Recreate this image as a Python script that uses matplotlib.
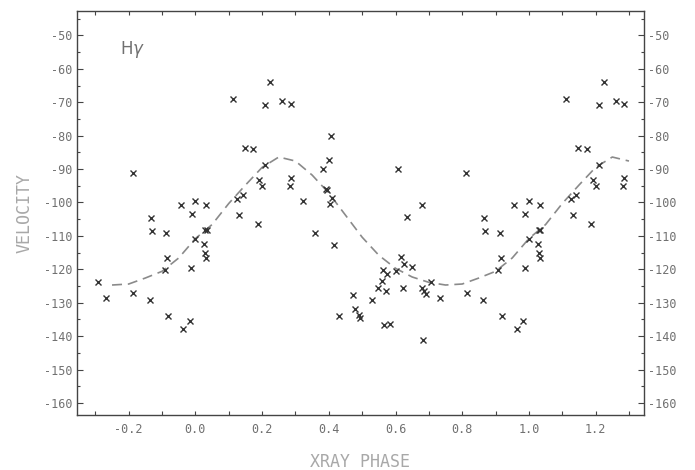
import numpy as np
import matplotlib
matplotlib.use("Agg")
import matplotlib.pyplot as plt
from matplotlib.ticker import MultipleLocator, FuncFormatter

plt.rcParams['axes.unicode_minus'] = False
plt.rcParams['font.family'] = ['DejaVu Sans Mono']

# observed velocities, one cycle of x-ray phase
phase = [0.000, 0.032, 0.030, 0.034, 0.000, 0.026, 0.030, 0.033, 0.112, 0.126,
         0.142, 0.132, 0.148, 0.174, 0.187, 0.191, 0.200, 0.210, 0.209, 0.224,
         0.261, 0.286, 0.286, 0.283,
         0.323, 0.360, 0.383, 0.391, 0.394, 0.401, 0.406, 0.410, 0.405, 0.415,
         0.430, 0.474, 0.478, 0.492, 0.493, 0.529, 0.546, 0.559, 0.563, 0.573,
         0.570, 0.566, 0.582, 0.602, 0.608, 0.616, 0.622, 0.626, 0.633, 0.650,
         0.678, 0.680, 0.684, 0.690, 0.683,
         0.707, 0.733, 0.812, 0.814, 0.863, 0.866, 0.869, 0.912, 0.915, 0.908,
         0.919, 0.956, 0.963, 0.983, 0.987, 0.989]
velocity = [-99.6, -100.7, -108.2, -108.2, -111.0, -112.5, -115.0, -116.5, -69.1, -99.1,
            -97.7, -103.8, -83.7, -83.9, -106.5, -93.4, -95.0, -88.9, -70.9, -63.9,
            -69.6, -70.4, -92.6, -95.0,
            -99.7, -109.0, -89.9, -96.1, -96.4, -87.4, -80.2, -98.6, -100.6, -112.7,
            -134.1, -127.8, -131.9, -133.8, -134.7, -129.3, -125.7, -123.5, -120.3, -121.4,
            -126.5, -136.6, -136.3, -120.4, -89.9, -116.4, -125.7, -118.5, -104.3, -119.2,
            -100.8, -125.6, -126.5, -127.4, -141.3,
            -123.9, -128.6, -91.2, -127.0, -129.1, -104.6, -108.5, -109.0, -116.7, -120.3,
            -133.9, -100.7, -137.9, -135.4, -119.7, -103.3]

curve_phase = [0.00, 0.05, 0.10, 0.15, 0.20, 0.25, 0.30, 0.35, 0.40, 0.45,
               0.50, 0.55, 0.60, 0.65, 0.70, 0.75, 0.80, 0.85, 0.90, 0.95]
curve_velocity = [-110.8, -106.6, -100.3, -94.8, -89.5, -86.4, -87.6, -91.8, -97.2, -103.8,
                  -110.4, -115.8, -119.7, -122.3, -123.9, -124.7, -124.4, -122.6, -120.6, -116.6]

ph = np.array(phase)
vel = np.array(velocity)
# repeat the cycle edges so the plot covers -0.3 .. 1.3
px = np.concatenate([ph, ph[ph < 0.3] + 1, ph[ph >= 0.7] - 1])
py = np.concatenate([vel, vel[ph < 0.3], vel[ph >= 0.7]])

cp = np.array(curve_phase)
cv = np.array(curve_velocity)
cx = np.concatenate([cp - 1, cp, cp + 1, [2.0]])
cy = np.concatenate([cv, cv, cv, [cv[0]]])
keep = (cx >= -0.3) & (cx <= 1.3)
cx, cy = cx[keep], cy[keep]

fig = plt.figure(figsize=(6.95, 4.70), dpi=100)
ax = fig.add_axes([0.1108, 0.117, 0.8158, 0.8596])

ax.plot(cx, cy, color='#8a8a8a', lw=1.2, dashes=(6, 3.5), solid_joinstyle='round')
ax.plot(px, py, 'x', color='#333333', ms=4, mew=1.0)

ax.set_xlim(-0.355, 1.345)
ax.set_ylim(-163.6, -42.7)

ax.xaxis.set_major_locator(MultipleLocator(0.1))
ax.xaxis.set_major_formatter(FuncFormatter(
    lambda v, pos: '%.1f' % v if abs(round(v * 10)) % 2 == 0 and abs(v - round(v, 1)) < 1e-6 else ''))
ax.yaxis.set_major_locator(MultipleLocator(10))
ax.yaxis.set_minor_locator(MultipleLocator(5))
ax.yaxis.set_major_formatter(FuncFormatter(lambda v, pos: '%d' % round(v)))

ax.tick_params(axis='x', which='both', direction='in', top=True, length=3,
               width=0.8, color='#444444', labelsize=8.5, labelcolor='#707070', pad=6)
ax.tick_params(axis='y', which='major', direction='in', right=True, labelright=True,
               length=4, width=0.8, color='#444444', labelsize=8.5, labelcolor='#707070', pad=3)
ax.tick_params(axis='y', which='minor', direction='in', right=True, length=2.5,
               width=0.8, color='#444444')

for s in ax.spines.values():
    s.set_color('#444444')
    s.set_linewidth(1.0)

ax.set_xlabel('XRAY PHASE', fontsize=12, color='#a8a8a8', labelpad=12)
ax.set_ylabel('VELOCITY', fontsize=12, color='#a8a8a8', labelpad=8)

ax.text(0.076, 0.905, r'H$\gamma$', transform=ax.transAxes, fontsize=12,
        color='#707070', family='DejaVu Sans', va='center', ha='left')

fig.savefig('out.png', dpi=100)
